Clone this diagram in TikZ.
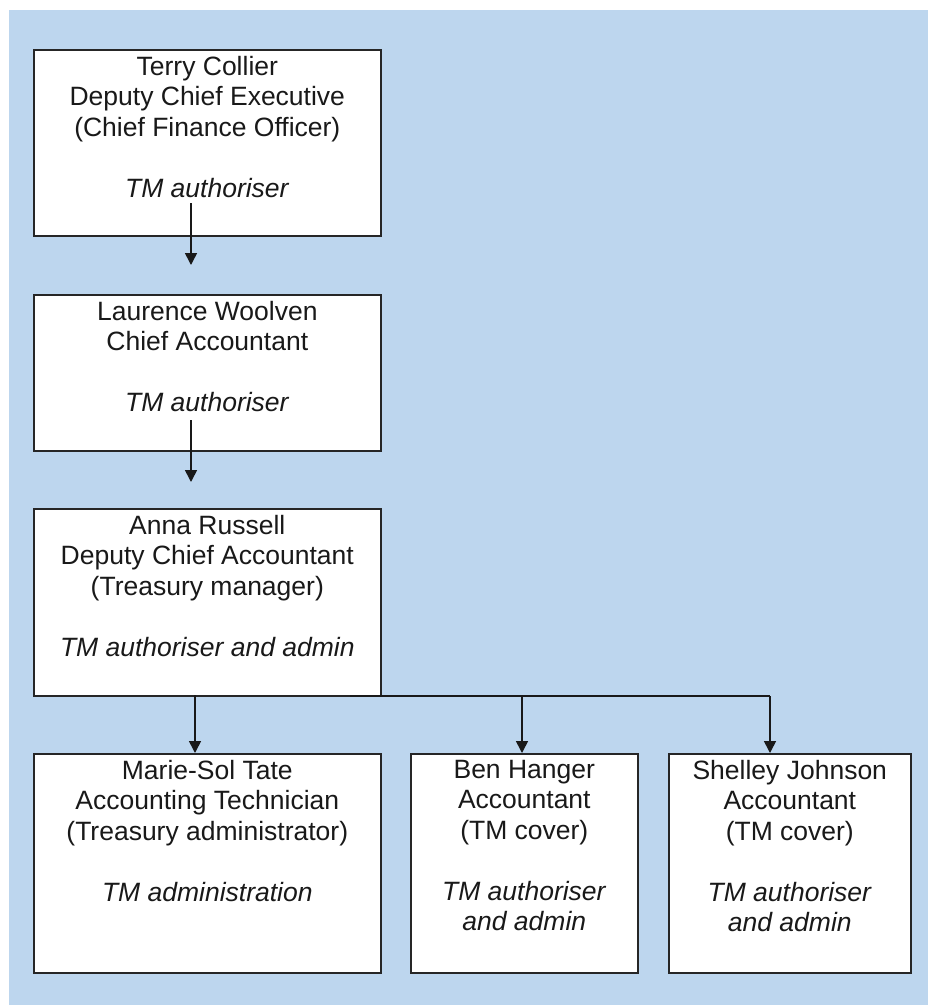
\documentclass[tikz,border=0pt]{standalone}
\usepackage{fontspec}
\setmainfont{Liberation Sans}
\usetikzlibrary{arrows.meta,calc}
\definecolor{bgblue}{RGB}{189,214,238}
\begin{document}
\begin{tikzpicture}[x=1pt,y=-1pt,
  box/.style={draw=black!85,line width=1.6pt,fill=white,inner sep=0pt,anchor=north west},
  txt/.style={align=center,font=\fontsize{26.5}{30.5}\selectfont,inner sep=0pt,anchor=north,text=black!90},
  conn/.style={line width=1.6pt,draw=black!90},
  arr/.style={conn,-{Triangle[length=12pt,width=12pt]}}]
\path[use as bounding box,fill=white] (0,0) rectangle (928,1005);
\fill[bgblue] (9,10) rectangle (928,1005);
% boxes
\node[box,minimum width=347pt,minimum height=186pt] (tc) at (33,49) {};
\node[box,minimum width=347pt,minimum height=156pt] (lw) at (33,294) {};
\node[box,minimum width=347pt,minimum height=187pt] (ar) at (33,508) {};
\node[box,minimum width=347pt,minimum height=219pt] (ms) at (33,753) {};
\node[box,minimum width=227pt,minimum height=219pt] (bh) at (410,753) {};
\node[box,minimum width=242pt,minimum height=219pt] (sj) at (668,753) {};
% texts
\node[txt] (tct) at ($(tc.north)+(0,7)$) {Terry Collier\\Deputy Chief Executive\\(Chief Finance Officer)\\[30.5pt]\textit{TM authoriser}};
\node[txt] (lwt) at ($(lw.north)+(0,7)$) {Laurence Woolven\\Chief Accountant\\[30.5pt]\textit{TM authoriser}};
\node[txt] (art) at ($(ar.north)+(0,7)$) {Anna Russell\\Deputy Chief Accountant\\(Treasury manager)\\[30.5pt]\textit{TM authoriser and admin}};
\node[txt] (mst) at ($(ms.north)+(0,7)$) {Marie-Sol Tate\\Accounting Technician\\(Treasury administrator)\\[30.5pt]\textit{TM administration}};
\node[txt] (bht) at ($(bh.north)+(0,7)$) {Ben Hanger\\Accountant\\(TM cover)\\[30.5pt]\textit{TM authoriser}\\\textit{and admin}};
\node[txt] (sjt) at ($(sj.north)+(0,7)$) {Shelley Johnson\\Accountant\\(TM cover)\\[30.5pt]\textit{TM authoriser}\\\textit{and admin}};
% connectors
\coordinate (a1s) at (191,203);
\coordinate (a1e) at (191,265);
\coordinate (a2s) at (191,420);
\coordinate (a2e) at (191,482);
\draw[arr] (a1s) -- (a1e);
\draw[arr] (a2s) -- (a2e);
\coordinate (jm) at (195,695);
\coordinate (hl) at (350,696);
\coordinate (jb) at (522,696);
\coordinate (js) at (770,696);
\draw[conn] (hl) -- (js);
\draw[arr] (jm) -- (jm |- ms.north);
\draw[arr] (jb) -- (jb |- bh.north);
\draw[arr] (js) -- (js |- sj.north);
\end{tikzpicture}
\end{document}
